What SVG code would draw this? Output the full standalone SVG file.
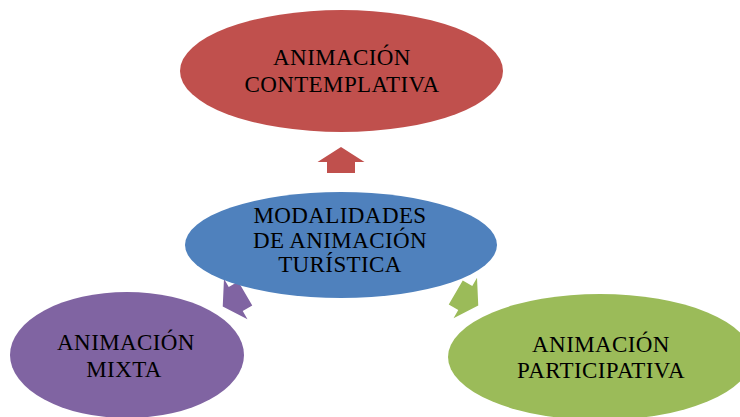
<svg xmlns="http://www.w3.org/2000/svg" width="740" height="417" viewBox="0 0 740 417">
<defs>
<style>
.lbl{font-family:"Liberation Serif","Times New Roman",serif;font-size:23px;letter-spacing:0.4px;fill:#000;text-anchor:middle}
.red{fill:#C0504D}.blue{fill:#4F81BD}.purple{fill:#8064A2}.green{fill:#9BBB59}
</style>
<path id="arr" d="M0,-13 L23.5,2 L14,2 L14,13 L-14,13 L-14,2 L-23.5,2 Z"/>
</defs>
<rect width="740" height="417" fill="#fff"/>
<g id="connectors">
<use href="#arr" class="red" transform="translate(341,160)"/>
<use href="#arr" class="purple" transform="translate(234,300) rotate(-120)"/>
<use href="#arr" class="green" transform="translate(467,299) rotate(120)"/>
</g>
<g id="contemplativa">
<ellipse class="red" cx="341.5" cy="71" rx="161.5" ry="61"/>
<text class="lbl" x="342" y="65">ANIMACIÓN</text>
<text class="lbl" x="342" y="92">CONTEMPLATIVA</text>
</g>
<g id="modalidades">
<ellipse class="blue" cx="341" cy="245" rx="156" ry="53"/>
<text class="lbl" x="340" y="223">MODALIDADES</text>
<text class="lbl" x="340" y="247.5">DE ANIMACIÓN</text>
<text class="lbl" x="340" y="272">TURÍSTICA</text>
</g>
<g id="mixta">
<ellipse class="purple" cx="127" cy="355" rx="117" ry="63"/>
<text class="lbl" x="126" y="350">ANIMACIÓN</text>
<text class="lbl" x="124" y="377">MIXTA</text>
</g>
<g id="participativa">
<ellipse class="green" cx="600" cy="357" rx="152" ry="63"/>
<text class="lbl" x="601" y="352">ANIMACIÓN</text>
<text class="lbl" x="601" y="378">PARTICIPATIVA</text>
</g>
</svg>
